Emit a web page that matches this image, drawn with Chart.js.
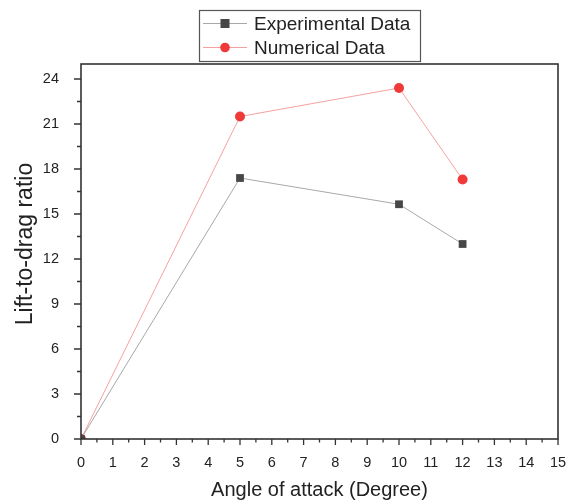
<!DOCTYPE html>
<html>
<head>
<meta charset="utf-8">
<script src="https://cdn.jsdelivr.net/npm/chart.js@4.4.0/dist/chart.umd.min.js"></script>
<style>
  html, body { margin: 0; padding: 0; background: #ffffff; }
  #wrap { width: 573px; height: 502px; }
</style>
</head>
<body>
<div id="wrap"><canvas id="c" width="573" height="502"></canvas></div>
<script>
// ---- data ----
const angles = [0, 5, 10, 12];
const experimental = [0, 17.4, 15.65, 13.0];
const numerical = [0, 21.5, 23.4, 17.3];
const seriesNames = ['Experimental Data', 'Numerical Data'];
const xTickValues = [0, 1, 2, 3, 4, 5, 6, 7, 8, 9, 10, 11, 12, 13, 14, 15];
const yTickValues = [0, 3, 6, 9, 12, 15, 18, 21, 24];
const xTitle = 'Angle of attack (Degree)';
const yTitle = 'Lift-to-drag ratio';

const FONT = '"Liberation Sans", Arial, sans-serif';
const AXIS_COLOR = '#333333';

function toPoints(xs, ys) { return xs.map((x, i) => ({ x: x, y: ys[i] })); }

// axis frame + major/minor tick marks
const framePlugin = {
  id: 'frame',
  afterDatasetsDraw(chart) {
    const ctx = chart.ctx, a = chart.chartArea;
    const xs = chart.scales.x, ys = chart.scales.y;
    ctx.save();
    ctx.strokeStyle = AXIS_COLOR;
    ctx.lineWidth = 1.6;
    ctx.strokeRect(a.left, a.top, a.right - a.left, a.bottom - a.top);
    ctx.lineWidth = 1.3;
    ctx.beginPath();
    xTickValues.forEach((v, i) => {
      const px = xs.getPixelForValue(v);
      ctx.moveTo(px, a.bottom); ctx.lineTo(px, a.bottom + 6);
      if (i < xTickValues.length - 1) {
        const mx = xs.getPixelForValue((v + xTickValues[i + 1]) / 2);
        ctx.moveTo(mx, a.bottom); ctx.lineTo(mx, a.bottom + 3.5);
      }
    });
    yTickValues.forEach((v, i) => {
      const py = ys.getPixelForValue(v);
      ctx.moveTo(a.left, py); ctx.lineTo(a.left - 7, py);
      if (i < yTickValues.length - 1) {
        const my = ys.getPixelForValue((v + yTickValues[i + 1]) / 2);
        ctx.moveTo(a.left, my); ctx.lineTo(a.left - 4, my);
      }
    });
    ctx.stroke();
    // y axis title
    ctx.fillStyle = '#222222';
    ctx.font = '23px ' + FONT;
    ctx.textAlign = 'center';
    ctx.textBaseline = 'middle';
    ctx.translate(26, 244);
    ctx.rotate(-Math.PI / 2);
    ctx.fillText(yTitle, 0, 0);
    ctx.restore();
  }
};

// boxed legend with line + marker samples
const boxLegendPlugin = {
  id: 'boxLegend',
  afterDraw(chart) {
    const ctx = chart.ctx;
    const box = { left: 199, top: 10, width: 221, height: 51 };
    ctx.save();
    ctx.strokeStyle = '#555555';
    ctx.lineWidth = 1.2;
    ctx.strokeRect(box.left + 0.5, box.top + 0.5, box.width, box.height);
    chart.data.datasets.forEach((ds, i) => {
      const cy = box.top + 13.5 + i * 24;
      ctx.strokeStyle = ds.borderColor;
      ctx.lineWidth = 1;
      ctx.beginPath();
      ctx.moveTo(box.left + 4, cy); ctx.lineTo(box.left + 48, cy);
      ctx.stroke();
      ctx.fillStyle = ds.pointBackgroundColor;
      if (ds.pointStyle === 'rect') {
        ctx.fillRect(box.left + 26 - 4.5, cy - 4.5, 9, 9);
      } else {
        ctx.beginPath();
        ctx.arc(box.left + 26, cy, 4.8, 0, Math.PI * 2);
        ctx.fill();
      }
      ctx.fillStyle = '#222222';
      ctx.font = '19px ' + FONT;
      ctx.textBaseline = 'middle';
      ctx.textAlign = 'left';
      ctx.fillText(ds.label, box.left + 55, cy + 1);
    });
    ctx.restore();
  }
};

new Chart(document.getElementById('c'), {
  type: 'line',
  data: {
    datasets: [
      {
        label: seriesNames[0],
        data: toPoints(angles, experimental),
        borderColor: '#a8a8a8',
        borderWidth: 1,
        pointStyle: 'rect',
        pointRadius: 5.5,
        pointBackgroundColor: '#474747',
        pointBorderColor: '#474747',
        pointBorderWidth: 0,
        tension: 0
      },
      {
        label: seriesNames[1],
        data: toPoints(angles, numerical),
        borderColor: '#f7a0a0',
        borderWidth: 1,
        pointStyle: 'circle',
        pointRadius: 5,
        pointBackgroundColor: '#f03a3a',
        pointBorderColor: '#f03a3a',
        pointBorderWidth: 0,
        tension: 0
      }
    ]
  },
  options: {
    responsive: false,
    animation: false,
    devicePixelRatio: 1,
    layout: { padding: { left: 0, top: 64, right: 15, bottom: 0 } },
    plugins: { legend: { display: false }, tooltip: { enabled: false } },
    scales: {
      x: {
        type: 'linear',
        min: 0, max: 15,
        afterBuildTicks: s => { s.ticks = xTickValues.map(v => ({ value: v })); },
        afterFit: s => { s.height = 63; s.paddingLeft = 0; s.paddingRight = 0; },
        grid: { display: false, drawTicks: false },
        border: { display: false },
        ticks: { color: '#222222', font: { family: FONT, size: 14.5 }, padding: 15, maxRotation: 0, autoSkip: false },
        title: { display: true, text: xTitle, color: '#222222', font: { family: FONT, size: 20 }, padding: { top: 5, bottom: 0 } }
      },
      y: {
        type: 'linear',
        min: 0, max: 25,
        afterBuildTicks: s => { s.ticks = yTickValues.map(v => ({ value: v })); },
        afterFit: s => { s.width = 81; s.paddingTop = 0; s.paddingBottom = 0; },
        grid: { display: false, drawTicks: false },
        border: { display: false },
        ticks: { color: '#222222', font: { family: FONT, size: 14.5 }, padding: 22, autoSkip: false },
        title: { display: false }
      }
    }
  },
  plugins: [framePlugin, boxLegendPlugin]
});
</script>
</body>
</html>
